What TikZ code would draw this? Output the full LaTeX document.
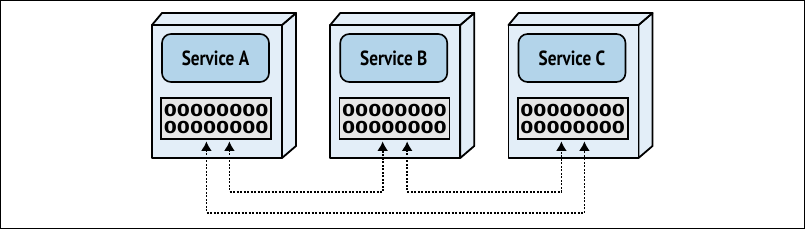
\documentclass[tikz,border=0pt]{standalone}
\usepackage{graphicx}
\usepackage{fontspec}
\setmainfont{PT Sans}
\newfontfamily\zerofont{DejaVu Sans}
\usetikzlibrary{arrows.meta,calc}
\definecolor{boxblue}{HTML}{E3EEF8}
\definecolor{svcblue}{HTML}{B3D4EA}
\definecolor{portgray}{HTML}{E6E6E6}
\tikzset{
  face/.style={fill=boxblue, draw=black, line width=1.8pt, line join=round},
  svc/.style={draw, fill=svcblue, line width=1.6pt, rounded corners=9pt,
    minimum width=107pt, minimum height=48pt, inner sep=0pt,
    font=\bfseries\fontsize{20.5}{20.5}\selectfont},
  ports/.style={draw, fill=portgray, line width=1.6pt, minimum width=110pt,
    minimum height=41pt, inner sep=0pt},
  zeros/.style={inner sep=0pt, font=\zerofont\bfseries\fontsize{16.5}{16.5}\selectfont},
  link/.style={line width=1.8pt, dash pattern=on 2pt off 1.5pt,
    {Latex[length=9.5pt,width=11pt]}-{Latex[length=9.5pt,width=11pt]}}
}
\begin{document}
\begin{tikzpicture}[x=1pt,y=-1pt]
\useasboundingbox (0,0) rectangle (805,229);
\draw[line width=1pt] (0.5,0.5) rectangle (804.5,228.5);
\foreach \ox/\n in {0/A,178.25/B,356.5/C}{
  \draw[face] (282+\ox,25) -- (296+\ox,13) -- (296+\ox,146) -- (282+\ox,158) -- cycle;
  \draw[face] (152+\ox,25) -- (162+\ox,13) -- (296+\ox,13) -- (282+\ox,25) -- cycle;
  \draw[face] (152+\ox,25) rectangle (282+\ox,158);
  \node[svc] (svc\n) at (215.5+\ox,58) {\scalebox{0.84}[1]{Service \n}};
  \node[ports] (ports\n) at (216.2+\ox,118.3) {};
  \node[zeros] (z\n1) at (216.2+\ox,110.3) {\scalebox{1.14}[1]{00000000}};
  \node[zeros] (z\n2) at (216.2+\ox,127.3) {\scalebox{1.14}[1]{00000000}};
}
\coordinate (pA1) at ($(portsA.south west)+(46,1.8)$);
\coordinate (pA2) at ($(portsA.south west)+(69,1.8)$);
\coordinate (pB1) at ($(portsB.south west)+(44,1.8)$);
\coordinate (pB2) at ($(portsB.south west)+(68.5,1.8)$);
\coordinate (pC1) at ($(portsC.south west)+(44.5,1.8)$);
\coordinate (pC2) at ($(portsC.south west)+(67.5,1.8)$);
\draw[link] (pA2) -- ($(pA2)+(0,50.5)$) -| (pB1);
\draw[link] (pB2) -- ($(pB2)+(0,50.5)$) -| (pC1);
\draw[link] (pA1) -- ($(pA1)+(0,71.5)$) -| (pC2);
\end{tikzpicture}
\end{document}
